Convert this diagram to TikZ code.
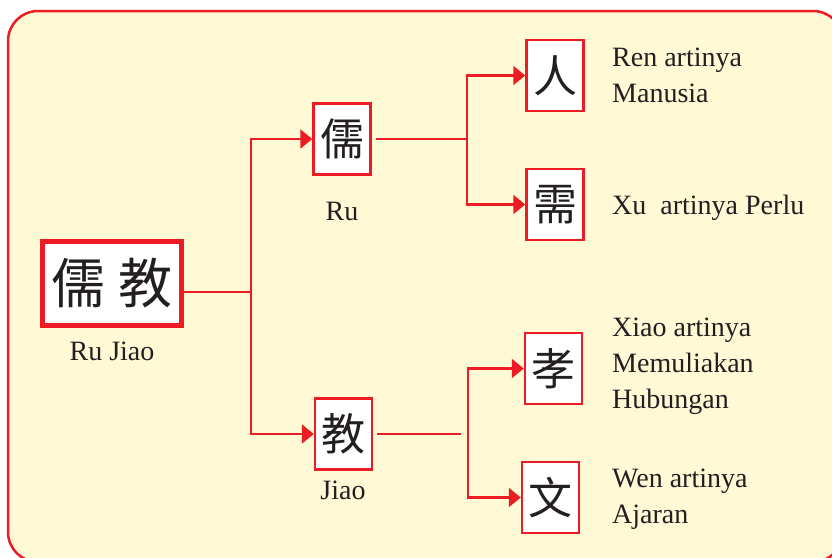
\documentclass[tikz,border=0pt]{standalone}
\usepackage{fontspec}
\setmainfont{Liberation Serif}
\newfontfamily\cjk{Noto Sans CJK SC}
\usetikzlibrary{arrows.meta}
\definecolor{hanred}{RGB}{237,28,36}
\definecolor{paper}{RGB}{255,249,214}
\definecolor{ink}{RGB}{35,31,32}
\newcommand{\latinsize}{\fontsize{28}{36}\selectfont}
\tikzset{
    mainbox/.style={draw=hanred, line width=5pt, fill=white, inner sep=0pt,
        minimum width=139pt, minimum height=84pt, text=ink,
        font=\cjk\fontsize{54}{54}\selectfont},
    charbox/.style={draw=hanred, line width=2.5pt, fill=white, inner sep=0pt,
        minimum width=57pt, minimum height=71pt, text=ink,
        font=\cjk\fontsize{44}{44}\selectfont},
    word/.style={anchor=base, inner sep=0pt, text=ink, font=\latinsize},
    meaning/.style={anchor=base west, inner sep=0pt, align=left, text=ink, font=\latinsize},
    conn/.style={draw=hanred, line width=2.4pt}
}

\begin{document}
\begin{tikzpicture}[x=1pt, y=-1pt, >={Triangle[length=12pt, width=19pt]}]
        \clip (0, 0) rectangle (832, 557);
        \draw[draw=hanred, fill=paper, line width=2.5pt, rounded corners=30pt]
            (8, 11) rectangle (843, 562);
        \node[mainbox] (rujiao) at (112, 283.5) {儒\hspace{14pt}教};
        \node[word] (rujiaoname) at (112, 360) {Ru Jiao};
        \node[charbox] (ru) at (342, 139) {儒};
        \node[word] (runame) at (342, 220) {Ru};
        \node[charbox] (jiao) at (343.5, 434) {教};
        \node[word] (jiaoname) at (343, 499) {Jiao};
        \node[charbox] (ren) at (555, 75.5) {人};
        \node[charbox] (xu) at (555, 204.5) {需};
        \node[charbox] (xiao) at (553.5, 368.5) {孝};
        \node[charbox] (wen) at (550.5, 497.5) {文};
        % base of a multi-line node is its last line
        \node[meaning] (renmean) at (612, 102) {Ren artinya\\Manusia};
        \node[meaning] (xumean) at (612, 214) {Xu\ \ artinya Perlu};
        \node[meaning] (xiaomean) at (612, 408) {Xiao artinya\\Memuliakan\\Hubungan};
        \node[meaning] (wenmean) at (612, 523) {Wen artinya\\Ajaran};
        \coordinate (fork) at (251, 292);
        \draw[conn] (rujiao.east |- fork) -- (fork);
        \draw[conn, ->] (fork) |- (ru.west);
        \draw[conn, ->] (fork) |- (jiao.west);
        \coordinate (rufork) at (467, 139);
        \draw[conn] ([xshift=4pt]ru.east) -- (rufork);
        \draw[conn, ->] (rufork) |- (ren.west);
        \draw[conn, ->] (rufork) |- (xu.west);
        \coordinate (jiaofork) at (468, 434);
        \draw[conn] ([xshift=4pt]jiao.east) -- ([xshift=-7pt]jiaofork);
        \draw[conn, ->] (jiaofork) |- (xiao.west);
        \draw[conn, ->] (jiaofork) |- (wen.west);
    \end{tikzpicture}
\end{document}
